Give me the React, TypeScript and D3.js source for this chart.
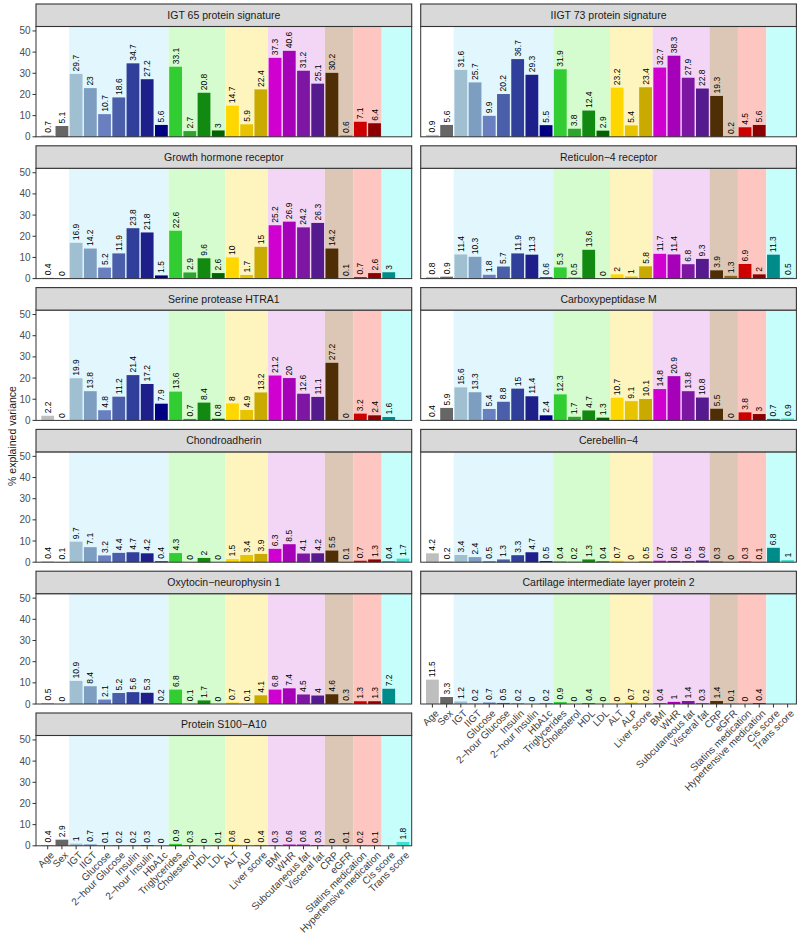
import * as d3 from "d3";
import React, { useRef, useEffect } from "react";

const categories = [
  "Age", "Sex", "IGT", "IIGT", "Glucose", "2\u2212hour Glucose", "Insulin", "2\u2212hour Insulin", "HbA1c",
  "Triglycerides", "Cholesterol", "HDL", "LDL", "ALT", "ALP", "Liver score",
  "BMI", "WHR", "Subcutaneous fat", "Visceral fat", "CRP", "eGFR",
  "Statins medication", "Hypertensive medication", "Cis score", "Trans score",
];

const barColors = [
  "#BEBEBE", "#666666", "#A0BFD0", "#7E9EC1", "#6A7FC0", "#4B5EA9", "#303F99", "#1F1F8B", "#000080",
  "#32CD32", "#2BA62B", "#128A12", "#006400", "#FFD700", "#E8C300", "#C9AA00",
  "#D000D0", "#A600B8", "#7E16A4", "#561A8F", "#4F2E06", "#8B6914",
  "#CC0000", "#8B0000", "#008B8B", "#40E0D0",
];

// background groups: first index, last index, colour
const bandStart = [0, 2, 9, 13, 16, 20, 22, 24];
const bandEnd = [1, 8, 12, 15, 19, 21, 23, 25];
const bandColors = ["#FFFFFF", "#E2F6FE", "#D4FCCF", "#FEF4BE", "#F3D6F5", "#DCC7B6", "#FEC6C0", "#C6FEFC"];

const titles = [
  "IGT 65 protein signature", "IIGT 73 protein signature",
  "Growth hormone receptor", "Reticulon\u22124 receptor",
  "Serine protease HTRA1", "Carboxypeptidase M",
  "Chondroadherin", "Cerebellin\u22124",
  "Oxytocin\u2212neurophysin 1", "Cartilage intermediate layer protein 2",
  "Protein S100\u2212A10",
];

const igt65 = [0.7, 5.1, 29.7, 23, 10.7, 18.6, 34.7, 27.2, 5.6, 33.1, 2.7, 20.8, 3, 14.7, 5.9, 22.4, 37.3, 40.6, 31.2, 25.1, 30.2, 0.6, 7.1, 6.4, null, null];
const iigt73 = [0.9, 5.6, 31.6, 25.7, 9.9, 20.2, 36.7, 29.3, 5.5, 31.9, 3.8, 12.4, 2.9, 23.2, 5.4, 23.4, 32.7, 38.3, 27.9, 22.8, 19.3, 0.2, 4.5, 5.6, null, null];
const ghr = [0.4, 0, 16.9, 14.2, 5.2, 11.9, 23.8, 21.8, 1.5, 22.6, 2.9, 9.6, 2.6, 10, 1.7, 15, 25.2, 26.9, 24.2, 26.3, 14.2, 0.1, 0.7, 2.6, 3, null];
const rtn4r = [0.8, 0.9, 11.4, 10.3, 1.8, 5.7, 11.9, 11.3, 0.6, 5.3, 0.5, 13.6, 0, 2, 1, 5.8, 11.7, 11.4, 6.8, 9.3, 3.9, 1.3, 6.9, 2, 11.3, 0.5];
const htra1 = [2.2, 0, 19.9, 13.8, 4.8, 11.2, 21.4, 17.2, 7.9, 13.6, 0.7, 8.4, 0.8, 8, 4.9, 13.2, 21.2, 20, 12.6, 11.1, 27.2, 0, 3.2, 2.4, 1.6, null];
const cpm = [0.4, 5.9, 15.6, 13.3, 5.4, 8.8, 15, 11.4, 2.4, 12.3, 1.7, 4.7, 1.3, 10.7, 9.1, 10.1, 14.8, 20.9, 13.8, 10.8, 5.5, 0, 3.8, 3, 0.7, 0.9];
const chad = [0.4, 0.1, 9.7, 7.1, 3.2, 4.4, 4.7, 4.2, 0.4, 4.3, 0, 2, 0, 1.5, 3.4, 3.9, 6.3, 8.5, 4.1, 4.2, 5.5, 0.1, 0.7, 1.3, 0.4, 1.7];
const cbln4 = [4.2, 0.2, 3.4, 2.4, 0.5, 1.3, 3.3, 4.7, 0.5, 0.4, 0.2, 1.3, 0.4, 0.7, 0, 0.5, 0.7, 0.6, 0.5, 0.8, 0.3, 0, 0.3, 0.1, 6.8, 1];
const oxt = [0.5, 0, 10.9, 8.4, 2.1, 5.2, 5.6, 5.3, 0.2, 6.8, 0.1, 1.7, 0, 0.7, 0.1, 4.1, 6.8, 7.4, 4.5, 4, 4.6, 0.3, 1.3, 1.3, 7.2, null];
const cilp2 = [11.5, 3.3, 1.2, 0.2, 0.7, 0.5, 0.2, 0, 0.2, 0.9, 0, 0.4, 0, 0, 0.7, 0.2, 0.4, 1, 1.4, 0.3, 1.4, 0.1, 0, 0.4, null, null];
const s100a10 = [0.4, 2.9, 1, 0.7, 0.1, 0.2, 0.2, 0.3, 0, 0.9, 0.3, 0, 0.1, 0.6, 0, 0.4, 0.3, 0.6, 0.6, 0.3, 0, 0.1, 0.2, 0.1, null, 1.8];

const seriesList = [igt65, iigt73, ghr, rtn4r, htra1, cpm, chad, cbln4, oxt, cilp2, s100a10];
const yTicks = [0, 10, 20, 30, 40, 50];

const font = "'Liberation Sans', Arial, Helvetica, sans-serif";

function App() {
  const ref = useRef(null);

  useEffect(() => {
    const svg = d3.select(ref.current);
    svg.selectAll("*").remove();

    const panelW = 375.7;
    const stripH = 22.5;
    const pitch = 141.8;
    const colX = [36, 420.7];

    seriesList.forEach((values, i) => {
      const col = i % 2;
      const row = Math.floor(i / 2);
      const x0 = colX[col];
      const top = 4 + row * pitch;
      const plotTop = top + stripH;
      const plotBottom = top + 132.8;

      const x = d3.scaleBand().domain(categories).range([x0 + 4.6, x0 + 4.6 + 26 * 14.21]);
      const y = d3.scaleLinear().domain([0, 52.1]).range([plotBottom, plotTop]);
      const g = svg.append("g");

      // background bands
      bandStart.forEach((s, k) => {
        const left = k === 0 ? x0 : x(categories[s]);
        const right = k === bandStart.length - 1 ? x0 + panelW : x(categories[bandEnd[k]]) + x.bandwidth();
        g.append("rect")
          .attr("x", left)
          .attr("y", plotTop)
          .attr("width", right - left)
          .attr("height", plotBottom - plotTop)
          .attr("fill", bandColors[k]);
      });

      const data = categories.map((c, j) => ({ c, v: values[j], col: barColors[j] })).filter((d) => d.v !== null);

      g.selectAll(".bar")
        .data(data)
        .enter()
        .append("rect")
        .attr("x", (d) => x(d.c) + x.bandwidth() * 0.05)
        .attr("width", x.bandwidth() * 0.9)
        .attr("y", (d) => y(d.v))
        .attr("height", (d) => plotBottom - y(d.v))
        .attr("fill", (d) => d.col);

      g.selectAll(".lab")
        .data(data)
        .enter()
        .append("text")
        .attr("transform", (d) => "translate(" + (x(d.c) + x.bandwidth() / 2) + "," + (y(d.v) - 2.5) + ") rotate(-90)")
        .attr("dy", "0.35em")
        .attr("font-size", 8.5)
        .attr("font-family", font)
        .attr("fill", "#000")
        .text((d) => String(d.v));

      // panel border
      g.append("rect")
        .attr("x", x0)
        .attr("y", plotTop)
        .attr("width", panelW)
        .attr("height", plotBottom - plotTop)
        .attr("fill", "none")
        .attr("stroke", "#333")
        .attr("stroke-width", 1);

      // strip
      g.append("rect")
        .attr("x", x0)
        .attr("y", top)
        .attr("width", panelW)
        .attr("height", stripH)
        .attr("fill", "#D9D9D9")
        .attr("stroke", "#333")
        .attr("stroke-width", 1.1);
      g.append("text")
        .attr("x", x0 + panelW / 2)
        .attr("y", top + stripH / 2)
        .attr("dy", "0.35em")
        .attr("text-anchor", "middle")
        .attr("font-size", 10.5)
        .attr("font-family", font)
        .attr("fill", "#1A1A1A")
        .text(titles[i]);

      if (col === 0) {
        yTicks.forEach((t) => {
          g.append("line")
            .attr("x1", x0 - 3.5).attr("x2", x0)
            .attr("y1", y(t)).attr("y2", y(t))
            .attr("stroke", "#333");
          g.append("text")
            .attr("x", x0 - 5.5)
            .attr("y", y(t))
            .attr("dy", "0.35em")
            .attr("text-anchor", "end")
            .attr("font-size", 10)
            .attr("font-family", font)
            .attr("fill", "#4D4D4D")
            .text(t);
        });
      }

      if (i >= seriesList.length - 2) {
        categories.forEach((c) => {
          const cx = x(c) + x.bandwidth() / 2;
          g.append("line")
            .attr("x1", cx).attr("x2", cx)
            .attr("y1", plotBottom).attr("y2", plotBottom + 3.5)
            .attr("stroke", "#333");
          g.append("text")
            .attr("transform", "translate(" + (cx + 2) + "," + (plotBottom + 5) + ") rotate(-45)")
            .attr("dy", "0.7em")
            .attr("text-anchor", "end")
            .attr("font-size", 10)
            .attr("font-family", font)
            .attr("fill", "#3D3D3D")
            .text(c);
        });
      }
    });

    svg.append("text")
      .attr("transform", "translate(12,436) rotate(-90)")
      .attr("dy", "0.35em")
      .attr("text-anchor", "middle")
      .attr("font-size", 10.5)
      .attr("font-family", font)
      .attr("fill", "#1A1A1A")
      .text("% explained variance");
  }, []);

  return (
    <div style={{ position: "absolute", left: 0, top: 0 }}>
      <svg ref={ref} width={800} height={937} style={{ display: "block", background: "#fff" }}></svg>
    </div>
  );
}

export default App;
